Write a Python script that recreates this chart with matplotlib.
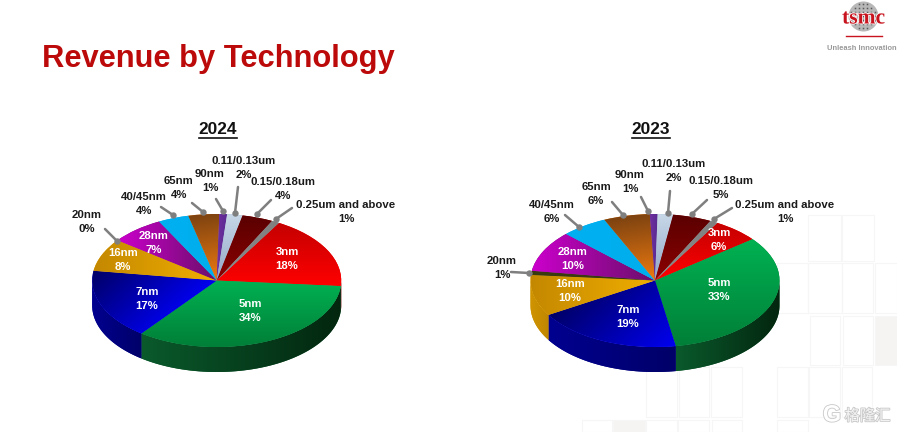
import numpy as np
import matplotlib
matplotlib.use("Agg")
import matplotlib.pyplot as plt
import matplotlib.patheffects as pe
from matplotlib.colors import to_rgb
from matplotlib.patches import Circle, Polygon, Rectangle

plt.rcParams['font.family'] = ['Liberation Sans', 'DejaVu Sans']

W, H = 897, 432

nodes = ["3nm", "5nm", "7nm", "16nm", "20nm", "28nm", "40/45nm", "65nm", "90nm",
         "0.11/0.13um", "0.15/0.18um", "0.25um and above"]
share_2024 = [18, 34, 17, 8, 0, 7, 4, 4, 1, 2, 4, 1]
share_2023 = [6, 33, 19, 10, 1, 10, 6, 6, 1, 2, 5, 1]

# top face gradient per slice: start colour, end colour, direction in degrees
grad_a = ["#c40000", "#00b252", "#000066", "#c48800", "#3a3a10", "#cc00cc",
          "#00b0f0", "#7c4210", "#7030a0", "#c8d8e8", "#5a0000", "#8a8a8a"]
grad_b = ["#ff0000", "#007f38", "#0000f0", "#f0ae00", "#3a3a10", "#6a0f6a",
          "#00aeee", "#ee7a10", "#5a2a90", "#92a8c8", "#8c0000", "#808080"]
grad_dir = [-90, -90, -30, 0, 0, 0, 0, -75, 0, -90, -90, 0]
# wall colours per slice, left and right end of the slice
wall_l = ["#900000", "#0a5a2c", "#000090", "#d09400", "#3a3a10", "#800080",
          "#0090c0", "#a05000", "#502080", "#8090a0", "#500000", "#666666"]
wall_r = ["#500000", "#03260f", "#000068", "#c08600", "#3a3a10", "#500050",
          "#006080", "#703000", "#301050", "#506070", "#300000", "#444444"]
label_white = [0, 1, 2, 3, 5]

RX, RY, DEPTH = 124.5, 66.5, 25
PAD = 1.05
START = 60

# (x, y) pixel positions of each label, top line
pos_2024 = [(287, 252), (250, 304), (147, 292), (123, 253), (87, 215), (154, 236),
            (144, 197), (179, 181), (210, 174), (244, 161), (283, 182), (346, 205)]
pos_2023 = [(719, 233), (719, 283), (628, 310), (570, 284), (502, 261), (573, 252),
            (552, 205), (596, 187), (630, 175), (674, 164), (721, 181), (785, 205)]
# leader start (near label) and dot (on the pie), pixels
lead_2024 = {4: ((105, 229), (117, 241)), 6: ((161, 207), (173, 215)),
             7: ((192, 203), (203, 212)), 8: ((216, 199), (223, 211)),
             9: ((238, 187), (235, 213)), 10: ((271, 200), (257, 214)),
             11: ((292, 208), (276, 219))}
lead_2023 = {4: ((511, 272), (529, 273)), 6: ((565, 215), (579, 227)),
             7: ((612, 202), (623, 215)), 8: ((641, 197), (648, 211)),
             9: ((670, 191), (668, 213)), 10: ((707, 200), (692, 214)),
             11: ((732, 208), (714, 219))}

# faint background tiles: x, y, w, h, fill
tiles = [(808, 215, 33, 46, 'none'), (842, 215, 32, 46, 'none'),
         (777, 263, 31, 50, 'none'), (808, 263, 34, 50, 'none'), (842, 263, 31, 50, 'none'), (875, 263, 22, 50, 'none'),
         (810, 316, 30, 49, 'none'), (843, 316, 30, 49, 'none'), (875, 316, 22, 49, '#f6f4f2'),
         (646, 367, 31, 50, 'none'), (679, 367, 30, 50, 'none'), (711, 367, 31, 50, 'none'),
         (777, 367, 31, 50, 'none'), (809, 367, 31, 50, 'none'), (842, 367, 30, 50, 'none'),
         (582, 420, 30, 12, 'none'), (613, 420, 32, 12, '#f6f4f2'), (646, 420, 31, 12, 'none'),
         (678, 420, 31, 12, 'none'), (712, 420, 30, 12, 'none'), (777, 420, 31, 12, 'none')]


def lerp_image(c0, c1, t):
    c0, c1 = np.array(to_rgb(c0)), np.array(to_rgb(c1))
    return c0 + (c1 - c0) * t[..., None]


def draw_pie(fig, values, cx, cy):
    d = DEPTH / RY
    left = cx - RX * PAD
    bottom = H - (cy + RY * (PAD + d))
    rect = [left / W, bottom / H, 2 * RX * PAD / W, RY * (2 * PAD + d) / H]
    ax = fig.add_axes(rect, zorder=2)
    wedges, _ = ax.pie(values, startangle=START, counterclock=False, colors=grad_b, radius=1)
    ax.set_aspect('auto')

    xs, ys = np.meshgrid(np.linspace(-1.02, 1.02, 400), np.linspace(1.02, -1.02 - d, 400))
    ext = (-1.02, 1.02, -1.02 - d, 1.02)

    stops = START - np.cumsum(values) * 3.6
    begins = np.r_[START, stops[:-1]]
    for i, (a, b) in enumerate(zip(begins, stops)):
        hi, lo = min(a, 0), max(b, -180)
        if hi > lo:
            th = np.radians(np.linspace(lo, hi, 60))
            pts = np.r_[np.c_[np.cos(th), np.sin(th)],
                        np.c_[np.cos(th[::-1]), np.sin(th[::-1]) - d]]
            wall = Polygon(pts, closed=True, fc=wall_l[i], ec='none', zorder=1)
            ax.add_patch(wall)
            tx = (xs - pts[:, 0].min()) / max(np.ptp(pts[:, 0]), 1e-6)
            im = ax.imshow(lerp_image(wall_l[i], wall_r[i], tx.clip(0, 1)), extent=ext,
                           aspect='auto', zorder=1.5)
            im.set_clip_path(wall)

    for i, w in enumerate(wedges):
        w.set_zorder(2)
        w.set_edgecolor('none')
        if values[i] > 0:
            th = np.radians(np.linspace(stops[i], begins[i], 40))
            px = np.r_[0, np.cos(th)]
            py = np.r_[0, np.sin(th)]
            ux, uy = np.cos(np.radians(grad_dir[i])), np.sin(np.radians(grad_dir[i]))
            proj = px * ux + py * uy
            t = ((xs * ux + ys * uy) - proj.min()) / np.ptp(proj)
            im = ax.imshow(lerp_image(grad_a[i], grad_b[i], t.clip(0, 1)), extent=ext,
                           aspect='auto', zorder=3)
            im.set_clip_path(w)

    ax.set_xlim(-PAD, PAD)
    ax.set_ylim(-PAD - d, PAD)
    ax.axis('off')
    return ax


def draw_labels(ov, values, pos, lead):
    for i, (x, y) in enumerate(pos):
        color = 'white' if i in label_white else '#1a1a1a'
        ov.text(x, y, nodes[i], ha='center', va='center', fontsize=8.2, weight='bold', color=color)
        ov.text(x, y + 14, f"{values[i]}%", ha='center', va='center', fontsize=8.2, weight='bold', color=color)
    for (x0, y0), (x1, y1) in lead.values():
        ov.plot([x0, x1], [y0, y1], color='#7f7f7f', lw=1.8, solid_capstyle='round', zorder=5)
        ov.plot(x1, y1, 'o', color='#7f7f7f', ms=4.6, mew=0, zorder=5)


fig = plt.figure(figsize=(W / 100, H / 100), dpi=100, facecolor='white')

bg = fig.add_axes([0, 0, 1, 1], zorder=1)
bg.set_xlim(0, W)
bg.set_ylim(H, 0)
bg.axis('off')
for x0, y0, w, h, fill in tiles:
    bg.add_patch(Rectangle((x0, y0), w, h, fc=fill, ec='#f6f6f6', lw=0.8))

draw_pie(fig, share_2024, 216.7, 280.5)
draw_pie(fig, share_2023, 655, 280.5)

ov = fig.add_axes([0, 0, 1, 1], zorder=3)
ov.set_xlim(0, W)
ov.set_ylim(H, 0)
ov.axis('off')
ov.patch.set_alpha(0)

ov.text(42, 59, "Revenue by Technology", ha='left', va='center', fontsize=22.2, weight='bold', color='#bc0a0a')
for x, year in [(217.5, "2024"), (651, "2023")]:
    ov.text(x, 129, year, ha='center', va='center', fontsize=12.4, weight='bold', color='#111111')
    ov.plot([x - 19, x + 19], [138, 138], color='#111111', lw=1.2)

draw_labels(ov, share_2024, pos_2024, lead_2024)
draw_labels(ov, share_2023, pos_2023, lead_2023)

# tsmc logo
ov.add_patch(Circle((863.5, 16.5), 15, fc='#b8b8b8', ec='none'))
for yy in np.arange(4, 32, 4):
    for xx in np.arange(851, 877, 4):
        if (xx - 863.5) ** 2 + (yy - 16.5) ** 2 < 180:
            ov.plot(xx, yy, 's', color='#5a5a5a', ms=1.1, mew=0)
ov.text(863.5, 18.5, "tsmc", ha='center', va='center', fontsize=15.5, weight='bold', family='Liberation Serif',
        color='#c8141e', path_effects=[pe.withStroke(linewidth=1.2, foreground='white')])
ov.plot([846, 882], [35.5, 35.5], color='#c8141e', lw=1)
ov.text(827, 48, "Unleash Innovation", ha='left', va='center', fontsize=5.45, weight='bold', color='#999999')

# watermark
ghost = [pe.withStroke(linewidth=1.2, foreground='#c8c8c8')]
ov.text(832, 415, "G", ha='center', va='center', fontsize=17, weight='bold', color='white', path_effects=ghost)
ov.text(867.5, 416, "格隆汇", ha='center', va='center', fontsize=11, color='#f4f4f4', path_effects=ghost,
        family=['Noto Sans CJK SC', 'DejaVu Sans'])

fig.savefig("out.png", dpi=100)
